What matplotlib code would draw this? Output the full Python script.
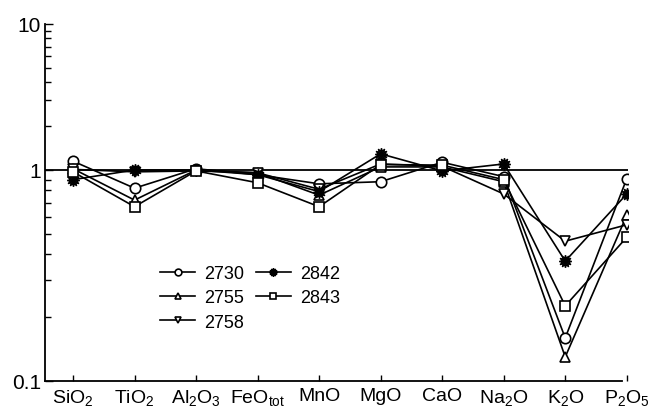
import numpy as np
import matplotlib
matplotlib.use("Agg")
import matplotlib.pyplot as plt
from matplotlib.ticker import FixedLocator, FixedFormatter

plt.rcParams["font.family"] = ["Liberation Sans", "DejaVu Sans"]
plt.rcParams["mathtext.default"] = "regular"

# Oxide labels (x axis)
oxides = ["SiO$_2$", "TiO$_2$", "Al$_2$O$_3$", "FeO$_{tot}$", "MnO",
          "MgO", "CaO", "Na$_2$O", "K$_2$O", "P$_2$O$_5$"]

# Normalised values for each sample
s2730 = [1.15, 0.82, 1.02, 0.95, 0.86, 0.88, 1.13, 0.93, 0.16, 0.91]
s2755 = [1.02, 0.72, 1.00, 0.97, 0.76, 1.05, 1.05, 0.88, 0.13, 0.61]
s2758 = [1.01, 0.98, 0.99, 0.97, 0.81, 1.10, 1.06, 0.77, 0.46, 0.55]
s2842 = [0.90, 1.00, 1.00, 0.95, 0.79, 1.29, 0.99, 1.10, 0.37, 0.77]
s2843 = [0.98, 0.67, 0.99, 0.87, 0.67, 1.09, 1.08, 0.90, 0.227, 0.48]

series = [
    ("2730", s2730, "o"),
    ("2755", s2755, "^"),
    ("2758", s2758, "v"),
    ("2842", s2842, (12, 1, 0)),
    ("2843", s2843, "s"),
]

# the scanned axis has a stretched lower decade
k = 211.0 / 146.0


def fwd(y):
    y = np.clip(np.asarray(y, dtype=float), 1e-6, None)
    l = np.log10(y)
    return np.where(l >= 0, l, l * k)


def inv(u):
    u = np.asarray(u, dtype=float)
    return np.where(u >= 0, 10 ** u, 10 ** (u / k))


fig = plt.figure(figsize=(6.56, 4.14), dpi=100)
ax = fig.add_axes([45 / 656, 1 - 382 / 414, (628 - 45) / 656, (382 - 25) / 414])
ax.set_yscale("function", functions=(fwd, inv))

x = np.arange(len(oxides))
for name, vals, mk in series:
    if mk == (12, 1, 0):
        ax.plot(x, vals, color="black", lw=1.2, marker=mk, ms=9,
                mfc="black", mec="black", label=name, zorder=3)
    else:
        ax.plot(x, vals, color="black", lw=1.2, marker=mk, ms=7.5,
                mfc="white", mec="black", mew=1.2, label=name, zorder=3)

ax.axhline(1, color="black", lw=1.3, zorder=2)

ax.set_ylim(0.1, 10)
ax.set_xlim(-0.455, 9.02)

ax.yaxis.set_major_locator(FixedLocator([0.1, 1, 10]))
ax.yaxis.set_major_formatter(FixedFormatter(["0.1", "1", "10"]))
minors = [0.2, 0.3, 0.4, 0.5, 0.6, 0.7, 0.8, 0.9, 2, 3, 4, 5, 6, 7, 8, 9]
ax.yaxis.set_minor_locator(FixedLocator(minors))
ax.yaxis.set_minor_formatter(FixedFormatter([""] * len(minors)))

ax.set_xticks(x)
ax.set_xticklabels(oxides)
ax.tick_params(axis="x", direction="in", length=4, width=1, pad=4, labelsize=14)
ax.tick_params(axis="y", which="major", direction="in", length=6, width=1, pad=3, labelsize=15)
ax.tick_params(axis="y", which="minor", direction="in", length=4, width=1)

for side in ["top", "right"]:
    ax.spines[side].set_visible(False)
ax.spines["left"].set_linewidth(1.3)
ax.spines["bottom"].set_linewidth(1.3)
ax.spines["bottom"].set_bounds(-0.455, 8.93)

leg = ax.legend(ncol=2, loc="upper left", bbox_to_anchor=(0.17, 0.37),
                frameon=False, fontsize=13, handlelength=1.9, handletextpad=0.5,
                columnspacing=0.7, labelspacing=0.4, markerscale=0.65)

plt.savefig("out.png", dpi=100)
